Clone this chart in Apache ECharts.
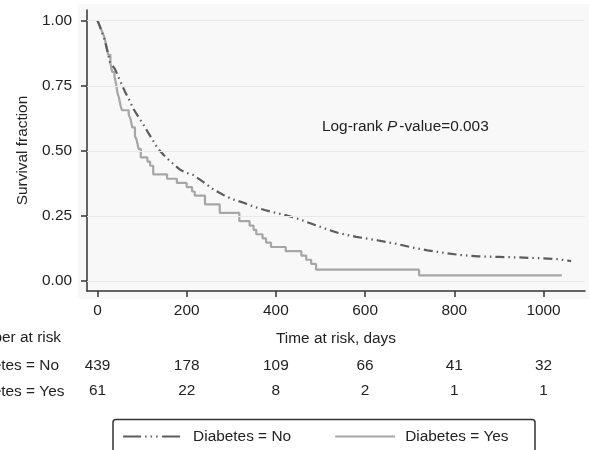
<!DOCTYPE html>
<html>
<head>
<meta charset="utf-8">
<script src="https://cdn.jsdelivr.net/npm/echarts@6/dist/echarts.min.js"></script>
<style>
html,body{margin:0;padding:0;background:#ffffff;}
#chart{width:589px;height:450px;}
</style>
</head>
<body>
<div id="chart"></div>
<script>
// ---- data ----
const riskTimes = [0, 200, 400, 600, 800, 1000];
const survTicks = [0, 0.25, 0.5, 0.75, 1];
const riskNo = [439, 178, 109, 66, 41, 32];
const riskYes = [61, 22, 8, 2, 1, 1];
const groupNames = ['Diabetes = No', 'Diabetes = Yes'];

const noTime = [0,5,10,15,20,28,39,50,62,70,80,92,105,115,122,135,148,160,172,185,200,214,237,260,281,300,326,350,375,393,415,445,474,510,541,580,630,670,704,740,779,815,853,900,942,990,1028,1062];
const noSurv = [1.0,0.98,0.955,0.93,0.9,0.84,0.815,0.772,0.726,0.70,0.663,0.63,0.595,0.566,0.547,0.51,0.485,0.465,0.447,0.428,0.415,0.408,0.381,0.352,0.332,0.316,0.302,0.286,0.273,0.265,0.256,0.242,0.224,0.202,0.184,0.17,0.156,0.143,0.13,0.118,0.108,0.1,0.095,0.093,0.091,0.088,0.085,0.077];

const yesTime = [0,4,8,12,16,20,24,29,33,38,42,45,48,52,55,70,74,78,84,88,92,97,112,118,125,156,178,200,212,218,241,274,318,341,350,356,370,378,389,422,457,468,479,490,721,1041];
const yesSurv = [1.0,0.984,0.967,0.951,0.934,0.902,0.869,0.836,0.803,0.787,0.754,0.721,0.705,0.672,0.656,0.639,0.623,0.590,0.557,0.541,0.508,0.475,0.459,0.443,0.41,0.393,0.377,0.361,0.344,0.328,0.295,0.262,0.23,0.213,0.197,0.18,0.164,0.148,0.131,0.115,0.098,0.082,0.066,0.044,0.022,0.022];

const pText = ['Log-rank ', 'P', '-value=0.003'];
const riskTitle = 'Number at risk';
const xTitle = 'Time at risk, days';
const yTitle = 'Survival fraction';

// ---- chart ----
const FONT = "'Liberation Sans', Arial, Helvetica, sans-serif";
const FS = 15.4;
const TXT = '#222222';
const AX = '#333333';
const COL_NO = '#5c5c5c';
const COL_YES = '#a6a6a6';

const zip = (a, b) => a.map((v, i) => [v, b[i]]);

const riskAxis = (vals, offset) => ({
  type: 'value', gridIndex: 0, position: 'bottom', offset: offset,
  min: -23.5, max: 1093,
  axisLine: {show: false, onZero: false}, axisTick: {show: false}, splitLine: {show: false},
  axisLabel: {
    customValues: riskTimes, margin: 12, fontSize: FS, color: TXT, fontFamily: FONT,
    formatter: v => String(vals[riskTimes.indexOf(v)])
  }
});

const chart = echarts.init(document.getElementById('chart'), null, {renderer: 'canvas'});
chart.setOption({
  animation: false,
  backgroundColor: '#ffffff',
  textStyle: {fontFamily: FONT},
  grid: {left: 87, right: 4, top: 10, bottom: 159},
  xAxis: [
    {
      type: 'value', min: -23.5, max: 1093, position: 'bottom',
      axisLine: {show: true, onZero: false, lineStyle: {color: AX, width: 1.5}},
      axisTick: {show: true, customValues: riskTimes, length: 6, lineStyle: {color: AX, width: 1.5}},
      axisLabel: {customValues: riskTimes, margin: 12, fontSize: FS, color: TXT, fontFamily: FONT,
        formatter: v => String(v)},
      splitLine: {show: false},
      name: xTitle, nameLocation: 'middle', nameGap: 40,
      nameTextStyle: {fontSize: FS, color: TXT, fontFamily: FONT}
    },
    riskAxis(riskNo, 55),
    riskAxis(riskYes, 80.5)
  ],
  yAxis: {
    type: 'value', min: -0.038, max: 1.041,
    axisLine: {show: true, onZero: false, lineStyle: {color: AX, width: 1.5}},
    axisTick: {show: true, customValues: survTicks, length: 6, lineStyle: {color: AX, width: 1.5}},
    axisLabel: {customValues: survTicks, margin: 15, fontSize: FS, color: TXT, fontFamily: FONT,
      formatter: v => v.toFixed(2)},
    splitLine: {show: false},
    name: yTitle, nameLocation: 'middle', nameGap: 57,
    nameTextStyle: {fontSize: FS, color: TXT, fontFamily: FONT}
  },
  legend: {
    left: 113, top: 419, orient: 'horizontal',
    itemWidth: 60, itemHeight: 16, itemGap: 43,
    padding: [10, 27, 10, 9],
    borderWidth: 0,
    textStyle: {fontSize: FS, color: TXT, fontFamily: FONT, padding: [0, 0, 0, 5]},
    data: [
      {name: groupNames[0], itemStyle: {opacity: 0},
       lineStyle: {color: COL_NO, width: 2.2, type: [18, 4, 1.5, 4, 1.5, 4, 1.5, 4.5]}},
      {name: groupNames[1], itemStyle: {opacity: 0},
       lineStyle: {color: COL_YES, width: 2.2, type: 'solid'}}
    ]
  },
  graphic: [
    {type: 'rect', z: -10, silent: true, shape: {x: 78, y: 4, width: 511, height: 295}, style: {fill: '#f8f8f8'}},
    {type: 'rect', z: 5, silent: true, shape: {x: 113, y: 419.5, width: 422, height: 45, r: 3},
     style: {fill: 'none', stroke: AX, lineWidth: 1.5}},
    {type: 'text', left: -39, top: 330, style: {text: riskTitle, font: FS + 'px ' + FONT, fill: TXT}},
    {type: 'text', left: -39, top: 358, style: {text: groupNames[0], font: FS + 'px ' + FONT, fill: TXT}},
    {type: 'text', left: -39, top: 384, style: {text: groupNames[1], font: FS + 'px ' + FONT, fill: TXT}},
    {type: 'text', left: 322, top: 119, style: {
      text: '{n|' + pText[0] + '}{i|' + pText[1] + '}{n|' + pText[2] + '}',
      rich: {
        n: {fontSize: FS, fontFamily: FONT, fill: TXT, color: TXT},
        i: {fontSize: FS, fontFamily: FONT, fontStyle: 'italic', fill: TXT, color: TXT, padding: [0, 2, 0, 0]}
      }
    }}
  ],
  series: [
    {
      type: 'line', name: 'grid', data: [], silent: true, z: 1,
      markLine: {
        silent: true, symbol: ['none', 'none'], label: {show: false},
        lineStyle: {color: '#e9e9e9', type: 'solid', width: 1},
        data: survTicks.map(v => ({yAxis: v}))
      }
    },
    {
      type: 'line', name: groupNames[0], data: zip(noTime, noSurv),
      showSymbol: false, symbol: 'none', z: 4,
      lineStyle: {color: COL_NO, width: 2.2, type: [9, 4, 1.5, 4, 1.5, 4], cap: 'butt'},
      itemStyle: {color: COL_NO}
    },
    {
      type: 'line', name: groupNames[1], data: zip(yesTime, yesSurv), step: 'end',
      showSymbol: false, symbol: 'none', z: 3,
      lineStyle: {color: COL_YES, width: 2.2, type: 'solid'},
      itemStyle: {color: COL_YES}
    }
  ]
});
</script>
</body>
</html>
